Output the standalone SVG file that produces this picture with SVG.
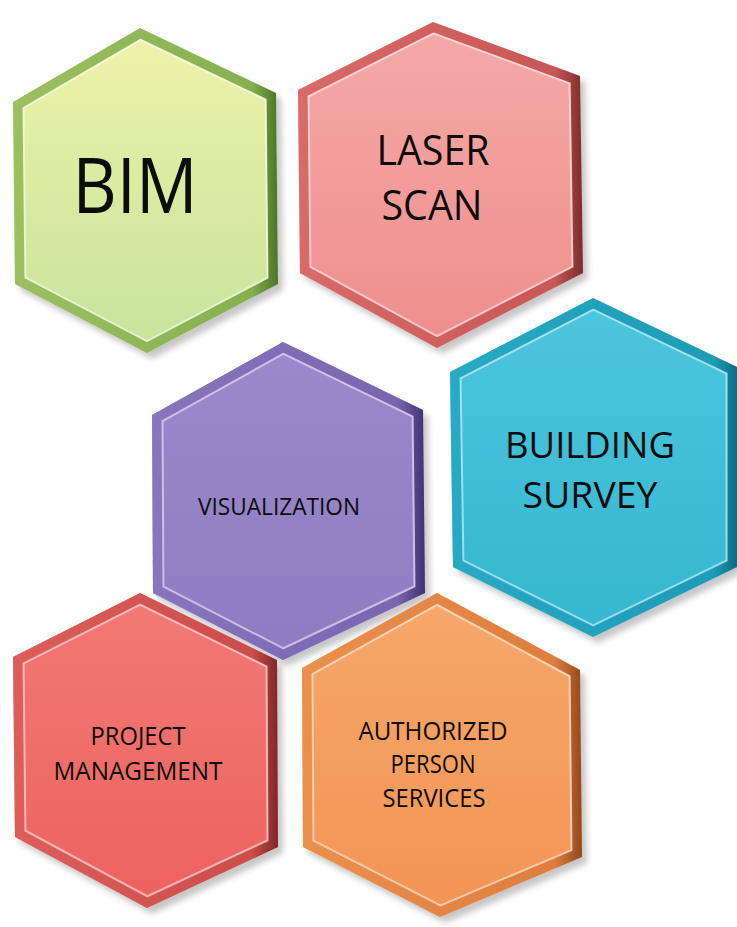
<svg xmlns="http://www.w3.org/2000/svg" xmlns:xlink="http://www.w3.org/1999/xlink" width="737" height="927" viewBox="0 0 737 927">
<style>
text{font-family:"Open Sans","Liberation Sans",sans-serif;fill:#0c0c0c;text-anchor:middle;font-weight:500}
.shadow{fill:#000;opacity:.22;filter:url(#blur)}
.hl{fill:none;stroke:#fff;stroke-opacity:.5;stroke-width:23}
.fr{fill:none;stroke-width:19}
</style>
<defs>
<filter id="blur" x="-10%" y="-10%" width="120%" height="120%"><feGaussianBlur stdDeviation="3"/></filter>
<polygon id="pBIM" points="140,28 276,93 278,284 147,353 15,284 13,102"/>
<polygon id="pLAS" points="433,22 580,76 583,273 437,348 300,273 298,90"/>
<polygon id="pVIS" points="283,342 423,410 425,593 283,660 153,593 152,415"/>
<polygon id="pBLD" points="593,298 737,367 737,567 593,637 453,567 450,372"/>
<polygon id="pPM" points="140,593 277,660 278,847 147,908 15,837 13,657"/>
<polygon id="pAUT" points="437,593 580,670 582,857 440,917 303,847 302,668"/>
<clipPath id="cBIM"><use xlink:href="#pBIM"/></clipPath>
<clipPath id="cLAS"><use xlink:href="#pLAS"/></clipPath>
<clipPath id="cVIS"><use xlink:href="#pVIS"/></clipPath>
<clipPath id="cBLD"><use xlink:href="#pBLD"/></clipPath>
<clipPath id="cPM"><use xlink:href="#pPM"/></clipPath>
<clipPath id="cAUT"><use xlink:href="#pAUT"/></clipPath>
<linearGradient id="fBIM" x1="0" y1="0" x2="0" y2="1"><stop offset="0" stop-color="#eef3aa"/><stop offset="1" stop-color="#c6e39a"/></linearGradient>
<linearGradient id="sBIM" x1="0" y1="0" x2="1" y2="0"><stop offset="0" stop-color="#9cc060"/><stop offset=".9" stop-color="#86b050"/><stop offset="1" stop-color="#4c7428"/></linearGradient>
<linearGradient id="fLAS" x1="0" y1="0" x2="0" y2="1"><stop offset="0" stop-color="#f4aaa8"/><stop offset="1" stop-color="#ee8e8c"/></linearGradient>
<linearGradient id="sLAS" x1="0" y1="0" x2="1" y2="0"><stop offset="0" stop-color="#d86a68"/><stop offset=".9" stop-color="#c85856"/><stop offset="1" stop-color="#7a2c2c"/></linearGradient>
<linearGradient id="fVIS" x1="0" y1="0" x2="0" y2="1"><stop offset="0" stop-color="#9b8aca"/><stop offset="1" stop-color="#8d7cc0"/></linearGradient>
<linearGradient id="sVIS" x1="0" y1="0" x2="1" y2="0"><stop offset="0" stop-color="#8676be"/><stop offset=".9" stop-color="#7766b0"/><stop offset="1" stop-color="#3e3270"/></linearGradient>
<linearGradient id="fBLD" x1="0" y1="0" x2="0" y2="1"><stop offset="0" stop-color="#4cc6de"/><stop offset="1" stop-color="#36b6d0"/></linearGradient>
<linearGradient id="sBLD" x1="0" y1="0" x2="1" y2="0"><stop offset="0" stop-color="#28aac4"/><stop offset=".92" stop-color="#1c9cb6"/><stop offset="1" stop-color="#0e6a82"/></linearGradient>
<linearGradient id="fPM" x1="0" y1="0" x2="0" y2="1"><stop offset="0" stop-color="#f27a76"/><stop offset="1" stop-color="#ec625e"/></linearGradient>
<linearGradient id="sPM" x1="0" y1="0" x2="1" y2="0"><stop offset="0" stop-color="#dc5e5a"/><stop offset=".9" stop-color="#cc4e4a"/><stop offset="1" stop-color="#7e2826"/></linearGradient>
<linearGradient id="fAUT" x1="0" y1="0" x2="0" y2="1"><stop offset="0" stop-color="#f6a86a"/><stop offset="1" stop-color="#f29454"/></linearGradient>
<linearGradient id="sAUT" x1="0" y1="0" x2="1" y2="0"><stop offset="0" stop-color="#ea904e"/><stop offset=".9" stop-color="#de7e3e"/><stop offset="1" stop-color="#94481c"/></linearGradient>
</defs>
<rect width="737" height="927" fill="#fff"/>
<g id="shadows">
<use xlink:href="#pBIM" class="shadow" transform="translate(5,6)"/>
<use xlink:href="#pLAS" class="shadow" transform="translate(5,6)"/>
<use xlink:href="#pVIS" class="shadow" transform="translate(5,6)"/>
<use xlink:href="#pBLD" class="shadow" transform="translate(5,6)"/>
<use xlink:href="#pPM" class="shadow" transform="translate(5,6)"/>
<use xlink:href="#pAUT" class="shadow" transform="translate(5,6)"/>
</g>
<g id="connectors"></g>
<g id="node-bim">
<use xlink:href="#pBIM" fill="url(#fBIM)"/>
<g clip-path="url(#cBIM)"><use xlink:href="#pBIM" class="hl"/><use xlink:href="#pBIM" class="fr" stroke="url(#sBIM)"/></g>
<text x="135" y="213" font-size="77" textLength="125" lengthAdjust="spacingAndGlyphs">BIM</text>
</g>
<g id="node-laser-scan">
<use xlink:href="#pLAS" fill="url(#fLAS)"/>
<g clip-path="url(#cLAS)"><use xlink:href="#pLAS" class="hl"/><use xlink:href="#pLAS" class="fr" stroke="url(#sLAS)"/></g>
<text x="433" y="165" font-size="42" textLength="113" lengthAdjust="spacingAndGlyphs">LASER</text>
<text x="432" y="220" font-size="42" textLength="101" lengthAdjust="spacingAndGlyphs">SCAN</text>
</g>
<g id="node-building-survey">
<use xlink:href="#pBLD" fill="url(#fBLD)"/>
<g clip-path="url(#cBLD)"><use xlink:href="#pBLD" class="hl"/><use xlink:href="#pBLD" class="fr" stroke="url(#sBLD)"/></g>
<text x="590" y="458" font-size="36" textLength="170" lengthAdjust="spacingAndGlyphs">BUILDING</text>
<text x="590" y="508" font-size="36" textLength="135" lengthAdjust="spacingAndGlyphs">SURVEY</text>
</g>
<g id="node-project-management">
<use xlink:href="#pPM" fill="url(#fPM)"/>
<g clip-path="url(#cPM)"><use xlink:href="#pPM" class="hl"/><use xlink:href="#pPM" class="fr" stroke="url(#sPM)"/></g>
<text x="138" y="745" font-size="25" textLength="95" lengthAdjust="spacingAndGlyphs">PROJECT</text>
<text x="138" y="780" font-size="25" textLength="169" lengthAdjust="spacingAndGlyphs">MANAGEMENT</text>
</g>
<g id="node-authorized-person-services">
<use xlink:href="#pAUT" fill="url(#fAUT)"/>
<g clip-path="url(#cAUT)"><use xlink:href="#pAUT" class="hl"/><use xlink:href="#pAUT" class="fr" stroke="url(#sAUT)"/></g>
<text x="433" y="740" font-size="26" textLength="149" lengthAdjust="spacingAndGlyphs">AUTHORIZED</text>
<text x="433" y="773" font-size="26" textLength="85" lengthAdjust="spacingAndGlyphs">PERSON</text>
<text x="434" y="807" font-size="26" textLength="103" lengthAdjust="spacingAndGlyphs">SERVICES</text>
</g>
<g id="node-visualization">
<use xlink:href="#pVIS" fill="url(#fVIS)"/>
<g clip-path="url(#cVIS)"><use xlink:href="#pVIS" class="hl"/><use xlink:href="#pVIS" class="fr" stroke="url(#sVIS)"/></g>
<text x="279" y="515" font-size="24" textLength="162" lengthAdjust="spacingAndGlyphs">VISUALIZATION</text>
</g>
</svg>
